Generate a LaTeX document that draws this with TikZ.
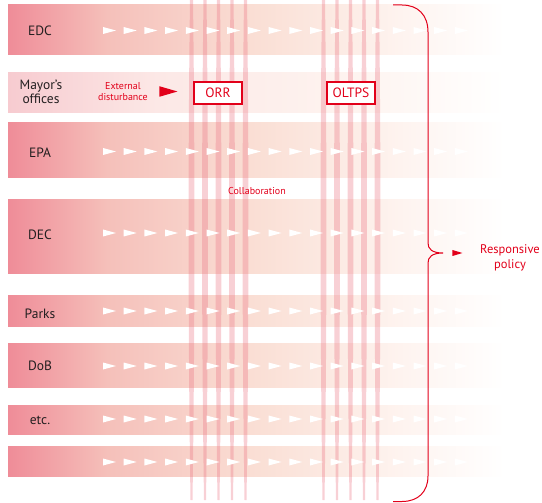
\documentclass[tikz,border=0pt]{standalone}
\usepackage{fontspec}
\setmainfont{PT Sans}
\usetikzlibrary{shapes.geometric}
\definecolor{darktext}{RGB}{35,31,32}
\definecolor{alertred}{RGB}{226,0,26}
\definecolor{bandpink}{RGB}{239,140,152}
\definecolor{bandpeach}{RGB}{245,192,186}
\definecolor{bandlight}{RGB}{250,223,213}
\definecolor{bandpale}{RGB}{254,244,240}
\definecolor{mayorpink}{RGB}{247,203,208}
\definecolor{mayorlight}{RGB}{252,232,230}
\definecolor{stripecol}{RGB}{236,120,135}
\pgfdeclarehorizontalshading{bandfade}{100bp}{color(0bp)=(bandpink); color(25bp)=(bandpink); color(35bp)=(bandpeach); color(50bp)=(bandlight); color(65bp)=(bandpale); color(75bp)=(white); color(100bp)=(white)}
\pgfdeclarehorizontalshading{mayorfade}{100bp}{color(0bp)=(mayorpink); color(25bp)=(mayorpink); color(40bp)=(mayorlight); color(60bp)=(bandpale); color(75bp)=(white); color(100bp)=(white)}
\begin{document}
\begin{tikzpicture}[x=1pt,y=-1pt]
\tikzstyle{agency}=[text=darktext,align=center,inner sep=0pt,font=\fontsize{13.5}{14}\selectfont]
\tikzstyle{redtext}=[text=alertred,align=center,inner sep=0pt]
\tikzstyle{unitbox}=[draw=alertred,line width=1.8pt,fill=white,text=alertred,minimum width=48pt,minimum height=22pt,inner sep=0pt,font=\fontsize{13.5}{14}\selectfont]
\tikzstyle{redtip}=[isosceles triangle,isosceles triangle stretches,fill=alertred,inner sep=0pt]
\tikzstyle{stripe}=[fill=stripecol,fill opacity=0.35]
\useasboundingbox (0,0) rectangle (542,503);

\foreach \ya/\yb in {5/55,123/178,200/273,295/326,343/387,405/434,446/476}
  \shade[shading=bandfade] (8,\ya) rectangle (505,\yb);
\shade[shading=mayorfade] (8,73) rectangle (505,113);

\foreach \c in {191.5,205,218.5,232,245.5,323.5,337,350.5,364,377.5}
  \fill[stripe] (\c-1.5,0) .. controls (\c-3.5,150) and (\c-3.5,330) .. (\c-1,500) -- (\c+1,500) .. controls (\c+3.5,330) and (\c+3.5,150) .. (\c+1.5,0) -- cycle;

\foreach \y in {30.5,151.5,233,311,366,419,462}
  \foreach \i in {0,...,17}
    \fill[white] (103+20.7*\i,\y-3.5) -- ++(13,3.5) -- ++(-13,3.5) -- cycle;

\path (40,31) node[agency](edc){EDC} (41,92) node[agency](mayor){Mayor’s\\offices} (40,153) node[agency](epa){EPA};
\path (40,235) node[agency](dec){DEC} (40,314) node[agency](parks){Parks} (40,366) node[agency](dob){DoB} (40,420) node[agency](etc){etc.};

\path (123,92) node[redtext,font=\fontsize{10}{11}\selectfont](ext){External\\disturbance};
\path (178,91.5) node[redtip,anchor=apex,minimum height=18pt,minimum width=10.5pt](extarrow){};
\path (218,93) node[unitbox](orr){ORR} (351,93) node[unitbox](oltps){OLTPS};
\path (257,191) node[redtext,font=\fontsize{10}{11}\selectfont](collab){Collaboration};

\draw[alertred,line width=1pt] (393,5) -- (402,5) .. controls (418,5) and (428,15) .. (428,32) -- (428,243) .. controls (428,249) and (432,253) .. (443,253) .. controls (432,253) and (428,257) .. (428,263) -- (428,476) .. controls (428,492) and (418,501.5) .. (402,501.5) -- (393,501.5);
\path (463,253) node[redtip,anchor=apex,minimum height=10pt,minimum width=6pt](polarrow){};
\path (510,258) node[redtext,font=\fontsize{12.5}{15}\selectfont](policy){Responsive\\policy};
\end{tikzpicture}
\end{document}
